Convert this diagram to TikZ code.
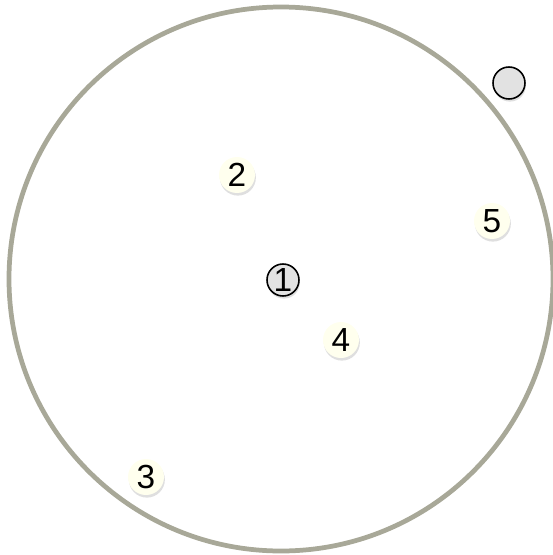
\documentclass[tikz,border=0pt]{standalone}
\usepackage{fontspec}
\setmainfont{Liberation Sans}
\usetikzlibrary{shadows}
\definecolor{rimgray}{HTML}{A8A898}
\definecolor{cream}{HTML}{FFFFEE}
\definecolor{pale}{HTML}{E2E2E2}

\begin{document}
\begin{tikzpicture}[
    x=0.02cm, y=-0.02cm,
    region/.style={draw=rimgray, line width=2.7pt},
    point/.style={circle, fill=cream, inner sep=0pt, minimum size=0.72cm, font=\fontsize{19}{19}\selectfont,
        drop shadow={shadow xshift=0.5pt, shadow yshift=-1.5pt, opacity=0.25}},
    centre/.style={point, fill=pale, draw=black, line width=0.9pt, minimum size=0.64cm},
    outside/.style={centre}
]

\useasboundingbox (0,0) rectangle (552,555);

% Circle
\draw[region] (281,279) circle (272);

% Points
\node[centre] (p1) at (283,280) {1};
\node[point] (p2) at (237,175) {2};
\node[point] (p3) at (146,477) {3};
\node[point] (p4) at (341,340) {4};
\node[point] (p5) at (492,221) {5};
\node[outside] (q) at (509,83) {};

\end{tikzpicture}
\end{document}
